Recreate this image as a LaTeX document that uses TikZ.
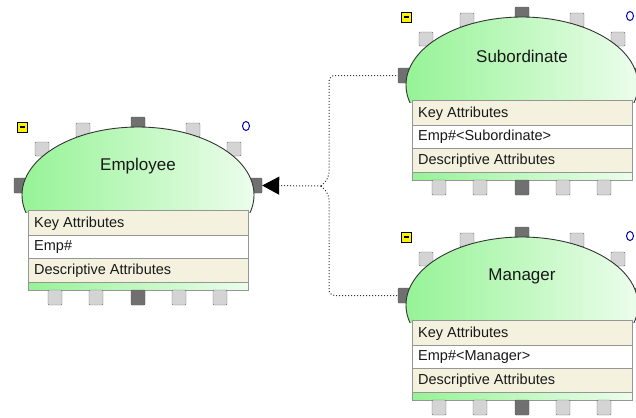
\documentclass[tikz,border=0pt]{standalone}
\usepackage{fontspec}
\setmainfont{Liberation Sans}
\usetikzlibrary{arrows.meta}
\definecolor{entgreen}{RGB}{150,243,150}
\definecolor{entpale}{RGB}{236,253,236}
\definecolor{rowcream}{RGB}{244,242,222}
\definecolor{rimgray}{RGB}{150,150,150}
\definecolor{padlight}{RGB}{212,212,212}
\definecolor{paddark}{RGB}{112,112,112}

\begin{document}
\begin{tikzpicture}[x=1bp,y=-1bp,
    pad/.style={draw=black!55,fill=padlight,minimum width=14bp,minimum height=14bp,inner sep=0pt,rounded corners=1bp},
    darkpad/.style={pad,fill=paddark,draw=paddark!80!black},
    row/.style={draw=rimgray,line width=1bp},
    txt/.style={anchor=west,inner sep=0pt,text=black!90,font=\fontsize{14.5bp}{17bp}\selectfont},
    link/.style={dotted,line width=1bp,black!80}]
  \useasboundingbox (0,0) rectangle (636,417);
  \foreach \n/\x/\y/\t/\k in {emp/28/210/Employee/Emp\#,
      sub/412/100/Subordinate/Emp\#<Subordinate>,
      mgr/412/320/Manager/Emp\#<Manager>}{
    \begin{scope}[shift={(\x,\y)}]
      \node[pad] (\n-t1) at (14,-61) {};
      \node[pad] (\n-t2) at (55,-80) {};
      \node[darkpad] (\n-t3) at (110,-86) {};
      \node[pad] (\n-t4) at (165,-80) {};
      \node[pad] (\n-t5) at (206,-61) {};
      \node[darkpad,minimum height=15bp] (\n-l) at (-7,-24.5) {};
      \node[darkpad,minimum height=15bp] (\n-r) at (227,-24.5) {};
      \begin{scope}
        \clip (-20,-100) rectangle (240,2);
        \shade[left color=entgreen,right color=entpale,draw=black!80,line width=0.9bp]
          (110,-15) ellipse [x radius=116,y radius=68];
      \end{scope}
      \node[font=\fontsize{17bp}{20bp}\selectfont,text=black!90] (\n-name) at (110,-44) {\t};
      \draw[row,fill=rowcream] (0,0) rectangle (220,25);
      \draw[row,fill=white] (0,25) rectangle (220,48);
      \draw[row,fill=rowcream] (0,48) rectangle (220,72);
      \shade[left color=entgreen,right color=entpale] (0,72) rectangle (220,80);
      \draw[row] (0,72) rectangle (220,80);
      \node[txt] (\n-key) at (6,13.5) {Key Attributes};
      \node[txt] (\n-id) at (6,37) {\k};
      \node[txt] (\n-desc) at (6,61) {Descriptive Attributes};
      \foreach \i/\px in {1/27,2/68,4/151,5/192}
        \node[pad,minimum height=15bp] (\n-b\i) at (\px,87.5) {};
      \node[darkpad,minimum height=15bp] (\n-b3) at (110,87.5) {};
      \node[draw=black,fill=yellow,minimum width=10bp,minimum height=10bp,inner sep=0pt] (\n-box) at (-5.5,-83) {};
      \draw[line width=1.2bp] ([xshift=-2.5bp]\n-box.center) -- ([xshift=2.5bp]\n-box.center);
      \draw[blue!70!black,line width=1bp] (218,-84) ellipse [x radius=3.5,y radius=4.5];
    \end{scope}
  }
  \coordinate (fork) at (321,186);
  \draw[link,-{Triangle[length=17bp,width=18bp,black]}] (fork) -- (emp-r.east);
  \draw[link,rounded corners=6bp] (fork) -- ++(8,-8) |- (sub-l.west);
  \draw[link,rounded corners=6bp] (fork) -- ++(8,8) |- (mgr-l.west);
\end{tikzpicture}
\end{document}
